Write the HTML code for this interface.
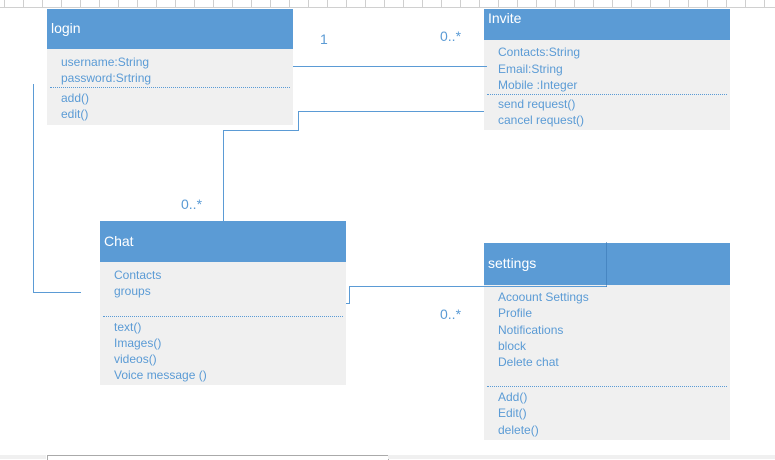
<!DOCTYPE html>
<html><head><style>
body{margin:0;width:775px;height:459px;position:relative;overflow:hidden;background:#fff;font-family:"Liberation Sans",sans-serif}
.ruler{position:absolute;left:0;top:0;width:775px;height:7px;border-bottom:1px solid #d0d0d0;background:repeating-linear-gradient(90deg,transparent 0 4px,#cfcfcf 4px 5px,transparent 5px 19px)}
.box{position:absolute;background:#f0f0f0}
.hd{position:absolute;left:0;top:0;width:100%;background:#5b9bd5;color:#fff;font-size:14px}
.t{position:absolute;color:#5b9bd5;font-size:12px;white-space:nowrap;line-height:14px;margin-top:1px}
.d{position:absolute;border-top:1px dotted #5b9bd5}
.l{position:absolute;background:#5b9bd5}
.lab{position:absolute;color:#5b9bd5;font-size:14px}
</style></head><body>
<div class="ruler"></div>

<div class="box" style="left:47px;top:9px;width:246px;height:116px">
<div class="hd" style="height:40px"><span style="position:absolute;left:4px;top:11px">login</span></div>
<div class="t" style="left:14px;top:45px">username:String</div>
<div class="t" style="left:14px;top:61px">password:Srtring</div>
<div class="d" style="left:3px;top:78px;width:240px"></div>
<div class="t" style="left:14px;top:81px">add()</div>
<div class="t" style="left:14px;top:97px">edit()</div>
</div>

<div class="box" style="left:484px;top:9px;width:246px;height:121px">
<div class="hd" style="height:31px"><span style="position:absolute;left:4px;top:1px">Invite</span></div>
<div class="t" style="left:14px;top:35px">Contacts:String</div>
<div class="t" style="left:14px;top:52px">Email:String</div>
<div class="t" style="left:14px;top:68px">Mobile :Integer</div>
<div class="d" style="left:3px;top:85px;width:240px"></div>
<div class="t" style="left:14px;top:87px">send request()</div>
<div class="t" style="left:14px;top:103px">cancel request()</div>
</div>

<div class="box" style="left:100px;top:221px;width:246px;height:164px">
<div class="hd" style="height:41px"><span style="position:absolute;left:4px;top:12px">Chat</span></div>
<div class="t" style="left:14px;top:46px">Contacts</div>
<div class="t" style="left:14px;top:62px">groups</div>
<div class="d" style="left:3px;top:95px;width:240px"></div>
<div class="t" style="left:14px;top:98px">text()</div>
<div class="t" style="left:14px;top:114px">Images()</div>
<div class="t" style="left:14px;top:130px">videos()</div>
<div class="t" style="left:14px;top:146px">Voice message ()</div>
</div>

<div class="box" style="left:484px;top:243px;width:246px;height:197px">
<div class="hd" style="height:42px"><span style="position:absolute;left:4px;top:12px">settings</span></div>
<div class="t" style="left:14px;top:46px">Acoount Settings</div>
<div class="t" style="left:14px;top:62px">Profile</div>
<div class="t" style="left:14px;top:79px">Notifications</div>
<div class="t" style="left:14px;top:95px">block</div>
<div class="t" style="left:14px;top:111px">Delete chat</div>
<div class="d" style="left:3px;top:143px;width:240px"></div>
<div class="t" style="left:14px;top:146px">Add()</div>
<div class="t" style="left:14px;top:162px">Edit()</div>
<div class="t" style="left:14px;top:179px">delete()</div>
</div>

<div class="l" style="left:293px;top:66px;width:194px;height:1px"></div>
<div class="l" style="left:298px;top:111px;width:186px;height:1px"></div>
<div class="l" style="left:298px;top:111px;width:1px;height:20px"></div>
<div class="l" style="left:223px;top:130px;width:76px;height:1px"></div>
<div class="l" style="left:223px;top:130px;width:1px;height:91px"></div>
<div class="l" style="left:33px;top:84px;width:1px;height:209px"></div>
<div class="l" style="left:33px;top:292px;width:48px;height:1px"></div>
<div class="l" style="left:346px;top:303px;width:3px;height:1px"></div>
<div class="l" style="left:349px;top:286px;width:1px;height:18px"></div>
<div class="l" style="left:349px;top:286px;width:258px;height:1px"></div>
<div class="l" style="left:606px;top:242px;width:1px;height:45px;opacity:.6;background:#3a78b5"></div>

<div class="lab" style="left:320px;top:31px">1</div>
<div class="lab" style="left:440px;top:28px">0..*</div>
<div class="lab" style="left:181px;top:196px">0..*</div>
<div class="lab" style="left:440px;top:306px">0..*</div>

<div style="position:absolute;left:47px;top:455px;width:340px;height:4px;border-top:1px solid #aaa;border-left:1px solid #aaa;border-right:1px solid #aaa"></div>
<div style="position:absolute;left:388px;top:455px;width:387px;height:4px;background:#f0f0f0"></div>
<div style="position:absolute;left:0;top:455px;width:46px;height:4px;background:#f0f0f0"></div>
</body></html>
